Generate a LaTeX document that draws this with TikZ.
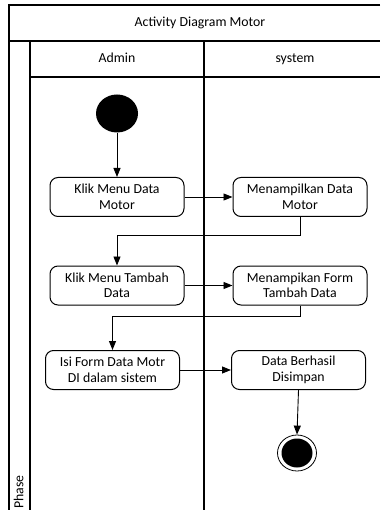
\documentclass[tikz,border=0pt]{standalone}
\usepackage{fontspec}
\setmainfont{Carlito}
\usetikzlibrary{arrows.meta,shapes.geometric}
\begin{document}
\begin{tikzpicture}[x=1pt,y=-1pt,
  frame/.style={line width=1.1pt,draw=black},
  actbox/.style={draw=black,line width=1pt,rounded corners=8pt,minimum width=134pt,minimum height=39pt,align=center,inner sep=2pt,font=\fontsize{13.8}{15.5}\selectfont},
  flow/.style={line width=0.9pt,-{Triangle[length=9pt,width=7pt]}},
  lbl/.style={font=\fontsize{13.8}{15.5}\selectfont,text height=9.5pt,text depth=3pt}]
\useasboundingbox (0,0) rectangle (380,510);
% swimlane frame
\draw[frame] (380,5) -- (9,5) -- (9,510);
\draw[frame] (9,41) -- (380,41);
\draw[frame] (30,41) -- (30,510);
\draw[frame] (30,77) -- (380,77);
\draw[frame] (204,41) -- (204,510);
\node[lbl] (title) at (200,23) {Activity Diagram Motor};
\node[lbl] (admin) at (117,59) {Admin};
\node[lbl] (system) at (295,59) {system};
\node[lbl,rotate=90,anchor=west,inner sep=1pt] (phase) at (20,510) {Phase};
% start and end
\node[ellipse,fill=black,minimum width=42pt,minimum height=38pt,inner sep=0pt] (start) at (117,113.5) {};
\node[ellipse,draw=black,line width=0.8pt,minimum width=39pt,minimum height=36pt,inner sep=0pt] (end) at (297,453) {};
\node[ellipse,fill=black,minimum width=31pt,minimum height=29pt,inner sep=0pt] (endin) at (297,453) {};
% activities
\node[actbox] (b1) at (117,197) {Klik Menu Data\\Motor};
\node[actbox] (b2) at (300,197) {Menampilkan Data\\Motor};
\node[actbox] (b3) at (117,285.5) {Klik Menu Tambah\\Data};
\node[actbox] (b4) at (300,285.5) {Menampikan Form\\Tambah Data};
\node[actbox] (b5) at (112.5,370) {Isi Form Data Motr\\DI dalam sistem};
\node[actbox] (b6) at (298.5,370) {Data Berhasil\\Disimpan};
% flows
\draw[flow] (start) -- (b1);
\draw[flow] (b1) -- (b2);
\draw[flow] (b2.south) |- (117,235) -- (b3.north);
\draw[flow] (b3) -- (b4);
\draw[flow] (b4.south) |- (112.5,316) -- (b5.north);
\draw[flow] (b5) -- (b6);
\draw[flow] (b6.south) -- (end.north);
\end{tikzpicture}
\end{document}
